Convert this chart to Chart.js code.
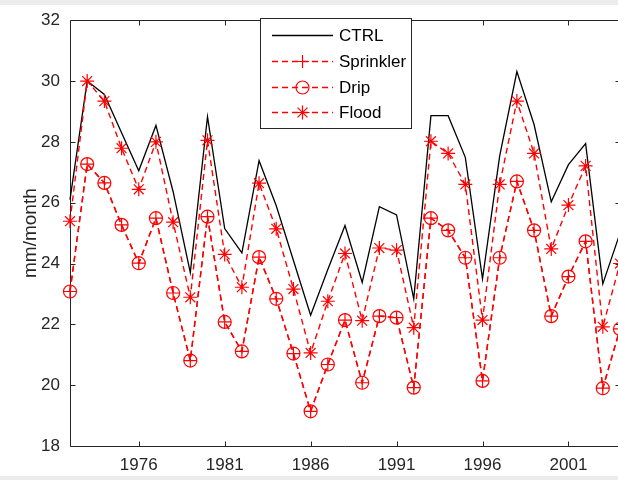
<!DOCTYPE html>
<html>
<head>
<meta charset="utf-8">
<script src="https://cdn.jsdelivr.net/npm/chart.js@4.4.0/dist/chart.umd.min.js"></script>
<style>
html, body { margin: 0; padding: 0; background: #fff; overflow: hidden; width: 618px; height: 480px; }
#wrap { position: absolute; left: 0; top: 0; width: 640px; height: 480px; }
.band { position: absolute; left: 0; width: 618px; background: #ececec; }
</style>
</head>
<body>
<div id="wrap"><canvas id="chart" width="640" height="480"></canvas></div>
<div class="band" style="top:0;height:5px"></div>
<div class="band" style="top:476px;height:4px"></div>
<script>
// yearly values (mm/month)
var years = [1972, 1973, 1974, 1975, 1976, 1977, 1978, 1979, 1980, 1981, 1982,
             1983, 1984, 1985, 1986, 1987, 1988, 1989, 1990, 1991, 1992, 1993,
             1994, 1995, 1996, 1997, 1998, 1999, 2000, 2001, 2002, 2003, 2004];
var ctrl = [26.1, 30.0, 29.56, 28.3, 27.05, 28.54, 26.36, 23.7, 28.83, 25.15, 24.35,
            27.38, 25.9, 24.1, 22.3, 23.8, 25.25, 23.38, 25.87, 25.6, 22.84, 28.86,
            28.86, 27.49, 23.5, 27.54, 30.31, 28.57, 26.03, 27.25, 27.94, 23.33, 25.0];
var drip = [23.08, 27.27, 26.65, 25.27, 24.01, 25.49, 23.03, 20.81, 25.54, 22.08, 21.11,
            24.21, 22.84, 21.04, 19.14, 20.68, 22.14, 20.08, 22.27, 22.22, 19.92, 25.49,
            25.09, 24.19, 20.14, 24.19, 26.7, 25.09, 22.27, 23.57, 24.73, 19.9, 21.85];
// sprinkler sits right on top of drip in the figure
var sprinkler = drip.slice();
var flood = [25.39, 30.0, 29.34, 27.79, 26.44, 28.0, 25.36, 22.89, 28.05, 24.3, 23.22,
             26.64, 25.14, 23.16, 21.06, 22.76, 24.33, 22.12, 24.51, 24.44, 21.89, 28.02,
             27.62, 26.6, 22.14, 26.6, 29.34, 27.62, 24.48, 25.92, 27.21, 21.92, 24.0];
var xTicks = [1976, 1981, 1986, 1991, 1996, 2001];
var yTicks = [18, 20, 22, 24, 26, 28, 30, 32];

var axisColor = '#262626';
var red = '#ff0000';

function pts(vals) {
    return years.map(function (y, i) { return {x: y, y: vals[i]}; });
}

// box round the axes with inward ticks, matlab style
var framePlugin = {
    id: 'frame',
    beforeDatasetsDraw: function (chart) {
        var ctx = chart.ctx, a = chart.chartArea;
        var xs = chart.scales.x, ys = chart.scales.y;
        var L = Math.round(a.left) + 0.5, R = Math.round(a.right) + 0.5;
        var T = Math.round(a.top) + 0.5, B = Math.round(a.bottom) + 0.5;
        ctx.save();
        ctx.strokeStyle = axisColor;
        ctx.lineWidth = 1;
        ctx.beginPath();
        ctx.rect(L, T, R - L, B - T);
        xs.ticks.forEach(function (t) {
            var px = Math.round(xs.getPixelForValue(t.value)) + 0.5;
            ctx.moveTo(px, B); ctx.lineTo(px, B - 5);
            ctx.moveTo(px, T); ctx.lineTo(px, T + 5);
        });
        ys.ticks.forEach(function (t) {
            var py = Math.round(ys.getPixelForValue(t.value)) + 0.5;
            ctx.moveTo(L, py); ctx.lineTo(L + 5, py);
            ctx.moveTo(R, py); ctx.lineTo(R - 5, py);
        });
        ctx.stroke();
        ctx.restore();
    }
};

function drawMarker(ctx, style, x, y, r) {
    ctx.beginPath();
    if (style === 'circle') {
        ctx.arc(x, y, r, 0, Math.PI * 2);
    } else {
        ctx.moveTo(x - r, y); ctx.lineTo(x + r, y);
        ctx.moveTo(x, y - r); ctx.lineTo(x, y + r);
        if (style === 'star') {
            var d = r * Math.SQRT1_2;
            ctx.moveTo(x - d, y - d); ctx.lineTo(x + d, y + d);
            ctx.moveTo(x - d, y + d); ctx.lineTo(x + d, y - d);
        }
    }
    ctx.stroke();
}

// legend box drawn by hand so the marker can sit in the middle of the line sample
var legendPlugin = {
    id: 'matlabLegend',
    afterDraw: function (chart) {
        var ctx = chart.ctx;
        var bx = 260.5, by = 18.5, bw = 151, bh = 110;
        ctx.save();
        ctx.fillStyle = '#fff';
        ctx.fillRect(bx, by, bw, bh);
        ctx.strokeStyle = axisColor;
        ctx.lineWidth = 1;
        ctx.strokeRect(bx, by, bw, bh);
        var rows = [35.5, 61.5, 87.5, 112.5];
        chart.data.datasets.forEach(function (ds, i) {
            var y = rows[i];
            ctx.strokeStyle = ds.borderColor;
            ctx.lineWidth = ds.borderWidth;
            ctx.setLineDash(ds.borderDash || []);
            ctx.beginPath();
            ctx.moveTo(272, y); ctx.lineTo(333, y);
            ctx.stroke();
            ctx.setLineDash([]);
            if (ds.pointRadius > 0) {
                ctx.lineWidth = 1.2;
                drawMarker(ctx, ds.pointStyle, 302.5, y, ds.pointRadius);
            }
            ctx.fillStyle = '#000';
            ctx.font = '17px "Liberation Sans", Arial, sans-serif';
            ctx.textBaseline = 'middle';
            ctx.textAlign = 'left';
            ctx.fillText(ds.label, 339, y + 1);
        });
        ctx.restore();
    }
};

Chart.defaults.font.family = '"Liberation Sans", Arial, sans-serif';

var chart = new Chart(document.getElementById('chart'), {
    type: 'line',
    data: {
        datasets: [{
            label: 'CTRL',
            data: pts(ctrl),
            borderColor: '#000',
            borderWidth: 1.3,
            pointRadius: 0,
            order: 4
        }, {
            label: 'Sprinkler',
            data: pts(sprinkler),
            borderColor: red,
            borderWidth: 1.4,
            borderDash: [6, 4],
            pointStyle: 'cross',
            pointRadius: 6.5,
            pointBorderWidth: 1.2,
            pointBorderColor: red,
            pointBackgroundColor: 'rgba(0,0,0,0)',
            order: 3
        }, {
            label: 'Drip',
            data: pts(drip),
            borderColor: red,
            borderWidth: 1.4,
            borderDash: [6, 4],
            pointStyle: 'circle',
            pointRadius: 6.5,
            pointBorderWidth: 1.2,
            pointBorderColor: red,
            pointBackgroundColor: 'rgba(0,0,0,0)',
            order: 2
        }, {
            label: 'Flood',
            data: pts(flood),
            borderColor: red,
            borderWidth: 1.4,
            borderDash: [6, 4],
            pointStyle: 'star',
            pointRadius: 7,
            pointBorderWidth: 1.2,
            pointBorderColor: red,
            pointBackgroundColor: red,
            order: 1
        }]
    },
    options: {
        responsive: false,
        animation: false,
        events: [],
        clip: false,
        layout: { padding: { left: 0, top: 14, right: 20, bottom: 0 } },
        plugins: {
            legend: { display: false },
            tooltip: { enabled: false }
        },
        scales: {
            x: {
                type: 'linear',
                min: 1972,
                max: 2004,
                grid: { display: false, drawTicks: false },
                border: { display: false },
                afterBuildTicks: function (s) {
                    s.ticks = xTicks.map(function (v) { return {value: v}; });
                },
                afterFit: function (s) { s.height = 34; },
                ticks: {
                    padding: 9,
                    color: axisColor,
                    font: { size: 17 },
                    maxRotation: 0,
                    callback: function (v) { return String(v); }
                }
            },
            y: {
                min: 18,
                max: 32,
                grid: { display: false, drawTicks: false },
                border: { display: false },
                afterBuildTicks: function (s) {
                    s.ticks = yTicks.map(function (v) { return {value: v}; });
                },
                afterFit: function (s) { s.width = 70; },
                ticks: {
                    padding: 10,
                    color: axisColor,
                    font: { size: 17 },
                    callback: function (v) { return String(v); }
                },
                title: {
                    display: true,
                    text: 'mm/month',
                    color: axisColor,
                    font: { size: 19 },
                    padding: { top: 19, bottom: 0 }
                }
            }
        }
    },
    plugins: [framePlugin, legendPlugin]
});
</script>
</body>
</html>
